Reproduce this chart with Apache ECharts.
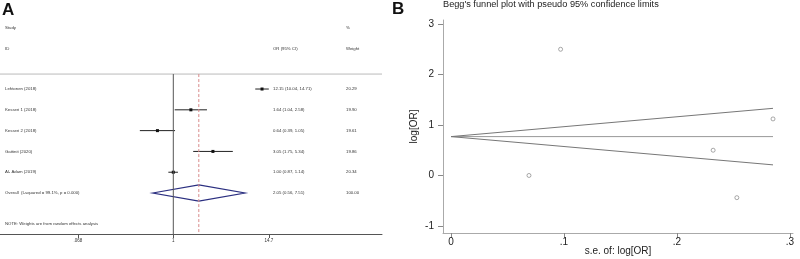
<!DOCTYPE html>
<html>
<head>
<meta charset="utf-8">
<script src="https://cdn.jsdelivr.net/npm/echarts@6/dist/echarts.min.js"></script>
<style>
  html, body { margin: 0; padding: 0; background: #fff; }
  #chart { width: 800px; height: 259px; }
</style>
</head>
<body>
<div id="chart"></div>
<script>
// forest plot (A)
const studies = ['Lehtonen (2018)', 'Kesseri 1 (2018)', 'Kesseri 2 (2018)', 'Gattinit (2020)', 'Al- Adam (2019)'];
const orVals = [12.15, 1.64, 0.64, 3.05, 1.00];
const orLow = [10.04, 1.04, 0.39, 1.75, 0.87];
const orHigh = [14.71, 2.58, 1.05, 5.34, 1.14];
const weights = ['20.29', '19.90', '19.61', '19.86', '20.34'];
const overall = [2.05, 0.56, 7.51];
const overallLabel = 'Overall  (I-squared = 99.1%, p = 0.000)';
const overallWeight = '100.00';
const forestTicks = [0.068, 1, 14.7];
const forestTickLabels = ['.068', '1', '14.7'];

// funnel plot (B)
const funnelSe = [0.097, 0.232, 0.253, 0.285, 0.069];
const funnelLogOr = [2.50, 0.50, -0.44, 1.12, 0.00];
const pooledLine = [[0, 0.77], [0.285, 0.77]];
const upperLimit = [[0, 0.77], [0.285, 1.33]];
const lowerLimit = [[0, 0.77], [0.285, 0.21]];
const funnelXTicks = [0, 0.1, 0.2, 0.3];
const funnelXLabels = ['0', '.1', '.2', '.3'];
const funnelYTicks = [-1, 0, 1, 2, 3];

const ln = Math.log;
const txt = '#333';
const font = 'Liberation Sans, Arial, sans-serif';

const rowIdx = studies.map((_, i) => i + 1);
const forestRows = studies.map((s, i) => [rowIdx[i], orVals[i], orLow[i], orHigh[i]]);
const textRows = studies.map((s, i) => [rowIdx[i], s, orVals[i].toFixed(2) + ' (' + orLow[i].toFixed(2) + ', ' + orHigh[i].toFixed(2) + ')', weights[i]]);
textRows.push([6, overallLabel, overall[0].toFixed(2) + ' (' + overall[1].toFixed(2) + ', ' + overall[2].toFixed(2) + ')', overallWeight]);
textRows.push([-1.92, 'Study', '', '%']);
textRows.push([-0.92, 'ID', 'OR (95% CI)', 'Weight']);
textRows.push([7.47, 'NOTE: Weights are from random effects analysis', '', '']);

const yTop = 0.28, yBottom = 7.97;
const xMin = -4.878, xMax = 5.874;

const chart = echarts.init(document.getElementById('chart'));

const option = {
  animation: false,
  backgroundColor: '#fff',
  graphic: [
    { type: 'text', left: 2, top: 2, style: { text: 'A', font: 'bold 17px ' + font, fill: '#111' } },
    { type: 'text', left: 392, top: 1, style: { text: 'B', font: 'bold 17px ' + font, fill: '#111' } },
    { type: 'text', left: 443, top: 0, style: { text: "Begg's funnel plot with pseudo 95% confidence limits", font: '9.2px ' + font, fill: '#222' } }
  ],
  grid: [
    { left: 0, top: 0, width: 382, height: 234, outerBoundsMode: 'none' },
    { left: 443, top: 20, width: 350, height: 213, outerBoundsMode: 'none' }
  ],
  xAxis: [
    {
      gridIndex: 0, type: 'value', min: xMin, max: xMax, position: 'bottom',
      splitLine: { show: false },
      axisLine: { onZero: false, lineStyle: { color: '#555', width: 1 } },
      axisTick: { show: true, length: 4, lineStyle: { color: '#555' }, customValues: forestTicks.map(ln) },
      axisLabel: {
        show: true, fontSize: 4.5, color: txt, margin: 4, fontFamily: font,
        customValues: forestTicks.map(ln),
        formatter: (v) => forestTickLabels[forestTicks.findIndex(t => Math.abs(ln(t) - v) < 1e-6)]
      }
    },
    {
      gridIndex: 1, type: 'value', min: -0.0071, max: 0.3027, position: 'bottom',
      splitLine: { show: false },
      axisLine: { onZero: false, lineStyle: { color: '#aaa', width: 1 } },
      axisTick: { length: 5, lineStyle: { color: '#888' }, customValues: funnelXTicks },
      axisLabel: {
        fontSize: 10, color: '#222', margin: 4, fontFamily: font,
        customValues: funnelXTicks,
        formatter: (v) => funnelXLabels[funnelXTicks.findIndex(t => Math.abs(t - v) < 1e-9)]
      },
      name: 's.e. of: log[OR]', nameLocation: 'middle', nameGap: 13, nameMoveOverlap: false,
      nameTextStyle: { fontSize: 10, color: '#222', fontFamily: font }
    }
  ],
  yAxis: [
    { gridIndex: 0, type: 'value', inverse: true, min: -3.28, max: yBottom, show: false },
    {
      gridIndex: 1, type: 'value', min: -1.14, max: 3.08, position: 'left',
      splitLine: { show: false },
      axisLine: { show: true, onZero: false, lineStyle: { color: '#aaa', width: 1 } },
      axisTick: { show: true, length: 5, lineStyle: { color: '#888' }, customValues: funnelYTicks },
      axisLabel: { fontSize: 10, color: '#222', margin: 9, fontFamily: font, customValues: funnelYTicks },
      name: 'log[OR]', nameLocation: 'middle', nameGap: 24,
      nameTextStyle: { fontSize: 10, color: '#222', fontFamily: font }
    }
  ],
  series: [
    // frame lines of the forest plot
    {
      type: 'line', xAxisIndex: 0, yAxisIndex: 0, silent: true, symbol: 'none',
      data: [[xMin, yTop], [xMax, yTop]], lineStyle: { color: '#bbb', width: 1 }
    },
    {
      type: 'line', xAxisIndex: 0, yAxisIndex: 0, silent: true, symbol: 'none',
      data: [[0, yTop], [0, yBottom]], lineStyle: { color: '#555', width: 1 }
    },
    {
      type: 'line', xAxisIndex: 0, yAxisIndex: 0, silent: true, symbol: 'none',
      data: [[ln(overall[0]), yTop], [ln(overall[0]), yBottom]],
      lineStyle: { color: '#d98a8a', width: 1, type: [3, 2] }
    },
    // study CIs and point estimates
    {
      type: 'custom', xAxisIndex: 0, yAxisIndex: 0, silent: true,
      data: forestRows,
      renderItem: (params, api) => {
        const y = api.coord([0, api.value(0)])[1];
        const p = api.coord([ln(api.value(1)), api.value(0)]);
        const a = api.coord([ln(api.value(2)), api.value(0)]);
        const b = api.coord([ln(api.value(3)), api.value(0)]);
        return {
          type: 'group',
          children: [
            { type: 'line', shape: { x1: a[0], y1: y, x2: b[0], y2: y }, style: { stroke: '#222', lineWidth: 1 } },
            { type: 'rect', shape: { x: p[0] - 1.5, y: y - 1.5, width: 3, height: 3 }, style: { fill: '#111' } }
          ]
        };
      }
    },
    // overall diamond
    {
      type: 'custom', xAxisIndex: 0, yAxisIndex: 0, silent: true,
      data: [[6, overall[0], overall[1], overall[2]]],
      renderItem: (params, api) => {
        const c = api.coord([ln(api.value(1)), api.value(0)]);
        const l = api.coord([ln(api.value(2)), api.value(0)]);
        const r = api.coord([ln(api.value(3)), api.value(0)]);
        const top = api.coord([0, api.value(0) - 0.39])[1];
        const bot = api.coord([0, api.value(0) + 0.39])[1];
        return {
          type: 'polygon',
          shape: { points: [[l[0], c[1]], [c[0], top], [r[0], c[1]], [c[0], bot]] },
          style: { fill: 'none', stroke: '#2b2f80', lineWidth: 1.2 }
        };
      }
    },
    // text columns
    {
      type: 'custom', xAxisIndex: 0, yAxisIndex: 0, silent: true,
      data: textRows,
      renderItem: (params, api) => {
        const row = textRows[params.dataIndex];
        const y = api.coord([0, row[0]])[1];
        const x0 = params.coordSys.x;
        const mk = (x, s) => ({
          type: 'text', x: x0 + x, y: y,
          style: { text: s, font: '4.3px ' + font, fill: txt, verticalAlign: 'middle', align: 'left' }
        });
        return { type: 'group', children: [mk(5, row[1]), mk(273, row[2]), mk(346, row[3])] };
      }
    },
    // funnel plot
    {
      type: 'line', xAxisIndex: 1, yAxisIndex: 1, silent: true, symbol: 'none',
      data: pooledLine, lineStyle: { color: '#999', width: 1 }
    },
    {
      type: 'line', xAxisIndex: 1, yAxisIndex: 1, silent: true, symbol: 'none',
      data: upperLimit, lineStyle: { color: '#777', width: 1 }
    },
    {
      type: 'line', xAxisIndex: 1, yAxisIndex: 1, silent: true, symbol: 'none',
      data: lowerLimit, lineStyle: { color: '#777', width: 1 }
    },
    {
      type: 'scatter', xAxisIndex: 1, yAxisIndex: 1, silent: true,
      symbol: 'circle', symbolSize: 4,
      data: funnelSe.map((s, i) => [s, funnelLogOr[i]]),
      itemStyle: { color: '#fff', borderColor: '#777', borderWidth: 0.8 }
    }
  ]
};

chart.setOption(option);
</script>
</body>
</html>
